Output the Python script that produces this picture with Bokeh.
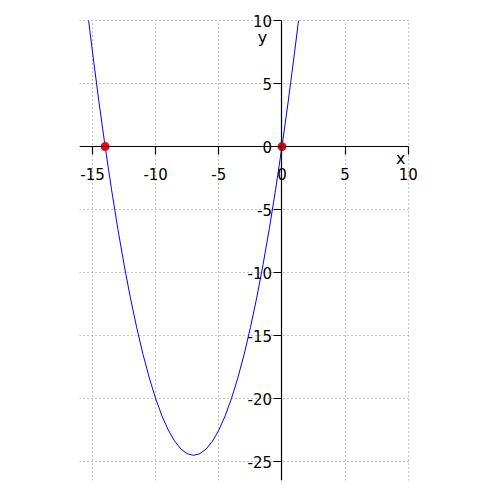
from bokeh.plotting import figure
from bokeh.models import LinearAxis, Range1d, FixedTicker, Label, Grid
from bokeh.embed import file_html
from bokeh.resources import INLINE

# curve samples (curve leaves the top edge y=10 at x≈-15.31 and x≈1.31)
curve_x = [-15.31, -15, -14.5, -14, -13.5, -13, -12.5, -12, -11.5, -11, -10.5, -10,
           -9.5, -9, -8.5, -8, -7.5, -7, -6.5, -6, -5.5, -5, -4.5, -4, -3.5, -3,
           -2.5, -2, -1.5, -1, -0.5, 0, 0.5, 1, 1.31]
curve_y = [10, 7.5, 3.625, 0, -3.375, -6.5, -9.375, -12, -14.375, -16.5, -18.375, -20,
           -21.375, -22.5, -23.375, -24, -24.375, -24.5, -24.375, -24, -23.375, -22.5,
           -21.375, -20, -18.375, -16.5, -14.375, -12, -9.375, -6.5, -3.375, 0, 3.625,
           7.5, 10]
root_x = [-14, 0]
root_y = [0, 0]
x_ticks = [-15, -10, -5, 0, 5, 10]
y_ticks = [10, 5, 0, -5, -10, -15, -20, -25]
x_lo, x_hi = -16.03, 10
y_lo, y_hi = -26.5, 10

FONT = "DejaVu Sans"

p = figure(width=440, height=492, output_backend="svg", toolbar_location=None,
           x_range=Range1d(x_lo, x_hi + 1.6), y_range=Range1d(y_lo, y_hi + 1.2),
           x_axis_type=None, y_axis_type=None,
           min_border_left=79, min_border_right=12, min_border_top=5, min_border_bottom=12)
p.outline_line_color = None
p.background_fill_color = "white"

xaxis = LinearAxis(fixed_location=0, ticker=FixedTicker(ticks=x_ticks), bounds=(x_lo, x_hi),
                   major_label_overrides={t: str(t) for t in x_ticks})
yaxis = LinearAxis(fixed_location=0, ticker=FixedTicker(ticks=y_ticks), bounds=(y_lo, y_hi),
                   major_label_overrides={t: str(t) for t in y_ticks})
for ax in (xaxis, yaxis):
    ax.axis_line_color = "black"
    ax.axis_line_width = 1.2
    ax.major_tick_line_color = "black"
    ax.major_tick_line_width = 1.2
    ax.major_tick_in = 0
    ax.major_tick_out = 8
    ax.minor_tick_line_color = None
    ax.major_label_text_font = FONT
    ax.major_label_text_font_size = "15px"
    ax.major_label_text_color = "black"
xaxis.major_label_standoff = 13
yaxis.major_label_standoff = 2
p.add_layout(xaxis, "below")
p.add_layout(yaxis, "left")

g = Grid(dimension=0, ticker=FixedTicker(ticks=x_ticks), bounds=(x_lo, x_hi), cross_bounds=(y_lo, y_hi))
g2 = Grid(dimension=1, ticker=FixedTicker(ticks=y_ticks), bounds=(y_lo, y_hi), cross_bounds=(x_lo, x_hi))
for gr in (g, g2):
    gr.grid_line_color = "#888888"
    gr.grid_line_dash = "1 3"
    gr.grid_line_width = 1
    p.add_layout(gr)

p.line(curve_x, curve_y, line_color="#0000ff", line_width=1)
p.scatter(root_x, root_y, size=9, fill_color="#ff0000", fill_alpha=1.0, line_color=None)

p.add_layout(Label(x=9.41, y=-0.95, text="x", text_font=FONT, text_font_size="16px",
                   text_align="center", text_baseline="alphabetic", text_color="black"))
p.add_layout(Label(x=-1.54, y=8.69, text="y", text_font=FONT, text_font_size="16px",
                   text_align="center", text_baseline="alphabetic", text_color="black"))

open("out.html", "w").write(file_html(p, INLINE))
